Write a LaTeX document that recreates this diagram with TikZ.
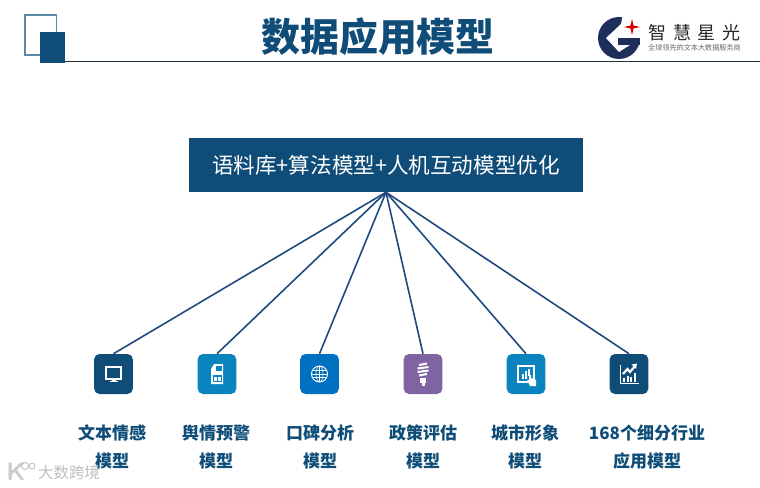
\documentclass[tikz,border=0pt]{standalone}
\usepackage{fontspec}
\newfontfamily\cjk{Noto Sans CJK SC}
\usepackage{xcolor}
\usetikzlibrary{arrows.meta,positioning,calc}
\definecolor{navy}{HTML}{0F4D78}
\definecolor{linkblue}{HTML}{1F4A7D}
\definecolor{teal}{HTML}{0A84BF}
\definecolor{royal}{HTML}{0070C0}
\definecolor{violet}{HTML}{8064A2}
\definecolor{frameblue}{HTML}{5B8AA6}
\definecolor{rulecol}{HTML}{1E3444}
\definecolor{logoblue}{HTML}{1F2F5C}

\begin{document}
\begin{tikzpicture}[
    x=0.75pt, y=-0.75pt,
    title/.style={font=\cjk\bfseries\fontsize{29.2}{34}\selectfont, text=navy, inner sep=0pt},
    banner/.style={fill=navy, text=white, font=\cjk\fontsize{16.2}{20}\selectfont, minimum width=295.5pt, minimum height=40.5pt, inner sep=0pt},
    iconbox/.style={rounded corners=4pt, minimum width=29pt, minimum height=30pt, inner sep=0pt},
    label/.style={font=\cjk\bfseries\fontsize{12.75}{21}\selectfont, text=navy, align=center, inner sep=0pt},
    link/.style={draw=linkblue, line width=1.2pt},
    glyph/.style={draw=white, line width=0.7pt}
  ]
  \useasboundingbox (0,0) rectangle (760,488);

  % Header
  \draw[frameblue, line width=0.8pt] (25,15) rectangle (56.5,55);
  \fill[navy] (40,32) rectangle (65,63.5);
  \coordinate (rulestart) at (65,61.5);
  \coordinate (ruleend) at (760,61.5);
  \draw[rulecol, line width=0.8pt] (rulestart) -- (ruleend);
  \node[title] (heading) at (378,37) {数据应用模型};

  % Logo
  \fill[logoblue] (619,38) circle (21);
  \fill[white] (606,38) -- (621,24) -- (623,14) -- (642,14) -- (642,38) -- (618,38) -- (618,45) -- (630,45) -- (619,52) -- cycle;
  \fill[logoblue] (618,38) rectangle (640,45);
  \fill[red!85!black] (632,19) -- (633.5,25.5) -- (640,27) -- (633.5,28.5) -- (632,35) -- (630.5,28.5) -- (624,27) -- (630.5,25.5) -- cycle;
  \node[font=\cjk\fontsize{13.5}{16}\selectfont, text=black!85, inner sep=0pt] (brand) at (694.5,33) {智\hspace{5pt}慧\hspace{5pt}星\hspace{5pt}光};
  \node[font=\cjk\fontsize{5.35}{7}\selectfont, text=black!60, inner sep=0pt] (slogan) at (694.5,48) {全球领先的文本大数据服务商};

  % Banner
  \node[banner] (corpus) at (386,165) {语料库+算法模型+人机互动模型优化};

  % Icons
  \node[iconbox, fill=navy] (monitor) at (113.5,374) {};
  \node[iconbox, fill=teal] (sim) at (217,374) {};
  \node[iconbox, fill=royal] (globe) at (319.5,374) {};
  \node[iconbox, fill=violet] (bulb) at (423,374) {};
  \node[iconbox, fill=teal] (screen) at (526,374) {};
  \node[iconbox, fill=navy] (chart) at (629,374) {};

  % Edges
  \draw[link] (corpus.south) -- (monitor.north);
  \draw[link] (corpus.south) -- (sim.north);
  \draw[link] (corpus.south) -- (globe.north);
  \draw[link] (corpus.south) -- (bulb.north);
  \draw[link] (corpus.south) -- (screen.north);
  \draw[link] (corpus.south) -- (chart.north);

  % Icon glyphs
  \begin{scope}[shift={(monitor.center)}]
    \draw[glyph, line width=1pt] (-7.5,-7) rectangle (7.5,5);
    \fill[white] (-2,5) rectangle (2,7);
    \fill[white] (-4,7) rectangle (4,8);
  \end{scope}
  \begin{scope}[shift={(sim.center)}]
    \fill[white] (-3,-10) -- (6,-10) -- (6,10) -- (-6,10) -- (-6,-5) -- cycle;
    \fill[teal] (-1,-8.5) rectangle (4.5,-3);
    \fill[teal] (-4.5,1) rectangle (4.5,8);
    \fill[white] (-3,3) rectangle (-0.5,6.5);
    \fill[white] (1,3) rectangle (3.5,6.5);
  \end{scope}
  \begin{scope}[shift={(globe.center)}]
    \draw[glyph] (0,0) circle (8);
    \draw[glyph, line width=0.4pt] (0,0) ellipse (3.5 and 8);
    \draw[glyph, line width=0.4pt] (-8,0) -- (8,0);
    \draw[glyph, line width=0.4pt] (-7,-3.5) -- (7,-3.5);
    \draw[glyph, line width=0.4pt] (-7,3.5) -- (7,3.5);
    \draw[glyph, line width=0.4pt] (0,-8) -- (0,8);
  \end{scope}
  \begin{scope}[shift={(bulb.center)}]
    \draw[glyph, line width=1.5pt] (-4,-9) -- (4,-10.5);
    \draw[glyph, line width=1.5pt] (-5.5,-5.5) -- (5.5,-7);
    \draw[glyph, line width=1.5pt] (-5.5,-2) -- (5.5,-3.5);
    \draw[glyph, line width=1.5pt] (-4,1.5) -- (4,0);
    \fill[white] (-3,3.5) rectangle (3,9);
    \fill[white] (-1.5,9) rectangle (1.5,12);
  \end{scope}
  \begin{scope}[shift={(screen.center)}]
    \draw[glyph, line width=1pt] (-8,-8) rectangle (8,8);
    \fill[white] (-4.5,0) rectangle (-2.5,5);
    \fill[white] (-1.5,-3) rectangle (0.5,5);
    \fill[white] (1.5,-5) rectangle (3.5,2);
    \fill[white] (3,1) -- (5,1) -- (5,4) -- (10,6) -- (10,12) -- (4,12) -- (1,6) -- (3,6) -- cycle;
  \end{scope}
  \begin{scope}[shift={(chart.center)}]
    \draw[glyph] (-9,-9) -- (-9,9) -- (10,9);
    \fill[white] (-6,4) rectangle (-4,7.5);
    \fill[white] (-2.5,2) rectangle (-0.5,7.5);
    \fill[white] (1,3) rectangle (3,7.5);
    \fill[white] (4.5,-1) rectangle (6.5,7.5);
    \draw[glyph, line width=1.6pt] (-6,0) -- (-1.5,-5) -- (1,-2) -- (6,-8);
    \fill[white] (2.5,-9.5) -- (8,-10.5) -- (7,-5) -- cycle;
  \end{scope}

  % Labels
  \node[label] (labela) at (112,447) {文本情感\\模型};
  \node[label] (labelb) at (216,447) {舆情预警\\模型};
  \node[label] (labelc) at (320,447) {口碑分析\\模型};
  \node[label] (labeld) at (423,447) {政策评估\\模型};
  \node[label] (labele) at (525,447) {城市形象\\模型};
  \node[label] (labelf) at (647,447) {168个细分行业\\应用模型};

  % Watermark
  \node[font=\sffamily\bfseries\fontsize{19}{19}\selectfont, text=black!20, inner sep=0pt] (wmark) at (16,472) {K};
  \draw[black!22, line width=0.8pt] (25,466) circle (3.5);
  \draw[black!22, line width=0.8pt] (32,466) circle (3);
  \node[font=\cjk\fontsize{11.6}{14}\selectfont, text=black!25, inner sep=0pt] (wtext) at (69,473) {大数跨境};
\end{tikzpicture}
\end{document}
